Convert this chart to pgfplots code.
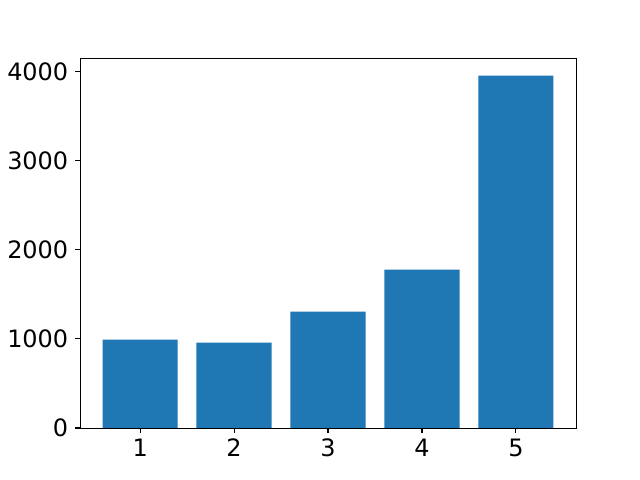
\documentclass[border=0pt]{standalone}
\usepackage{fontspec}
\setmainfont{DejaVu Sans}
\usepackage{pgfplots}
\pgfplotsset{compat=1.18}
\definecolor{mplblue}{HTML}{1F77B4}
\begin{document}
\begin{tikzpicture}
\useasboundingbox (-0.8in,-0.52in) rectangle (5.6in,4.28in);
\begin{axis}[
  at={(0,0)}, anchor=south west,
  scale only axis,
  width=4.96in, height=3.7in,
  xmin=0.36, xmax=5.64,
  ymin=0, ymax=4150,
  xtick={1,2,3,4,5},
  ytick={0,1000,2000,3000,4000},
  tick align=outside,
  tick pos=left,
  major tick length=3.5pt,
  every tick/.style={black, line width=0.8pt},
  axis line style={line width=0.6pt},
  ticklabel style={font=\fontsize{17.3}{20}\selectfont},
  xticklabel style={yshift=-1pt},
  yticklabel style={xshift=-1.5pt},
  /pgf/number format/assume math mode=true,
  scaled y ticks=false,
  yticklabel style={/pgf/number format/.cd, fixed, 1000 sep={}},
  ybar, bar width=0.8,
]
\addplot[fill=mplblue, draw=none, bar shift=0pt] coordinates {
  (1,992) (2,958) (3,1306) (4,1777) (5,3952)
};
\end{axis}
\end{tikzpicture}
\end{document}
